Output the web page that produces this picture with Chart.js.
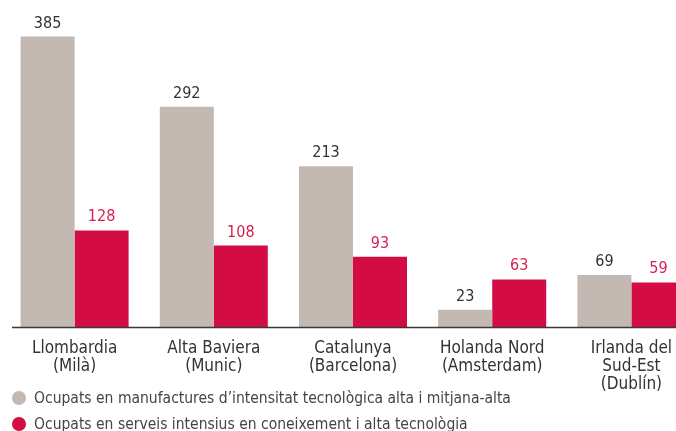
<!DOCTYPE html>
<html>
<head>
<meta charset="utf-8">
<script src="https://cdn.jsdelivr.net/npm/chart.js@4/dist/chart.umd.min.js"></script>
<style>
  html, body { margin: 0; padding: 0; background: #fff; overflow: hidden; width: 676px; height: 431px; }
  #wrap { position: absolute; left: 0; top: 0; width: 710px; height: 431px; }
  .leg { position: absolute; left: 0; font-family: "Liberation Sans Narrow", "DejaVu Sans Condensed", sans-serif; font-size: 15.5px; color: #444; white-space: nowrap; }
  .leg span.dot { position: absolute; left: 12px; width: 14px; height: 14px; border-radius: 50%; }
  .leg span.txt { position: absolute; left: 34px; }
</style>
</head>
<body>
<div id="wrap"><canvas id="c" width="710" height="431"></canvas></div>
<div class="leg" style="top:391px"><span class="dot" style="background:#C3B8B2;top:0"></span><span class="txt" style="top:-2px" id="l1"></span></div>
<div class="leg" style="top:417px"><span class="dot" style="background:#D30C43;top:0"></span><span class="txt" style="top:-2px" id="l2"></span></div>
<script>
const categories = [
  ['Llombardia', '(Milà)'],
  ['Alta Baviera', '(Munic)'],
  ['Catalunya', '(Barcelona)'],
  ['Holanda Nord', '(Amsterdam)'],
  ['Irlanda del', 'Sud-Est', '(Dublín)']
];
const seriesNames = [
  "Ocupats en manufactures d’intensitat tecnològica alta i mitjana-alta",
  "Ocupats en serveis intensius en coneixement i alta tecnològia"
];
const manufactures = [385, 292, 213, 23, 69];
const serveis = [128, 108, 93, 63, 59];

document.getElementById('l1').textContent = seriesNames[0];
document.getElementById('l2').textContent = seriesNames[1];

const FONT = '"Liberation Sans Narrow", "DejaVu Sans Condensed", sans-serif';

const valueLabels = {
  id: 'valueLabels',
  afterDatasetsDraw(chart) {
    const ctx = chart.ctx;
    ctx.save();
    ctx.font = '16px ' + FONT;
    ctx.textAlign = 'center';
    ctx.textBaseline = 'alphabetic';
    chart.data.datasets.forEach((ds, di) => {
      const meta = chart.getDatasetMeta(di);
      ctx.fillStyle = di === 0 ? '#333333' : '#D81E50';
      meta.data.forEach((bar, i) => {
        ctx.fillText(String(ds.data[i]), bar.x, bar.y - 9);
      });
    });
    ctx.restore();
  }
};

const baseLine = {
  id: 'baseLine',
  afterDatasetsDraw(chart) {
    const ctx = chart.ctx;
    const y = chart.scales.y.getPixelForValue(0);
    ctx.save();
    ctx.strokeStyle = '#3a3a3a';
    ctx.lineWidth = 1.5;
    ctx.beginPath();
    ctx.moveTo(12, y + 0.5);
    ctx.lineTo(710, y + 0.5);
    ctx.stroke();
    ctx.restore();
  }
};

new Chart(document.getElementById('c'), {
  type: 'bar',
  data: {
    labels: categories,
    datasets: [
      { label: seriesNames[0], data: manufactures, backgroundColor: '#C3B8B2', categoryPercentage: 0.776, barPercentage: 1.0 },
      { label: seriesNames[1], data: serveis, backgroundColor: '#D30C43', categoryPercentage: 0.776, barPercentage: 1.0 }
    ]
  },
  options: {
    responsive: false,
    animation: false,
    layout: { padding: { top: 26, left: 5, right: 9, bottom: 0 } },
    plugins: { legend: { display: false }, tooltip: { enabled: false } },
    scales: {
      x: {
        grid: { display: false, drawTicks: false },
        border: { display: false },
        ticks: { color: '#333', font: { family: FONT, size: 17, lineHeight: 1.08 }, padding: 12, maxRotation: 0, autoSkip: false },
        afterFit(scale) { scale.height = 104; }
      },
      y: {
        display: false,
        min: 0,
        max: 399
      }
    }
  },
  plugins: [valueLabels, baseLine]
});
</script>
</body>
</html>
